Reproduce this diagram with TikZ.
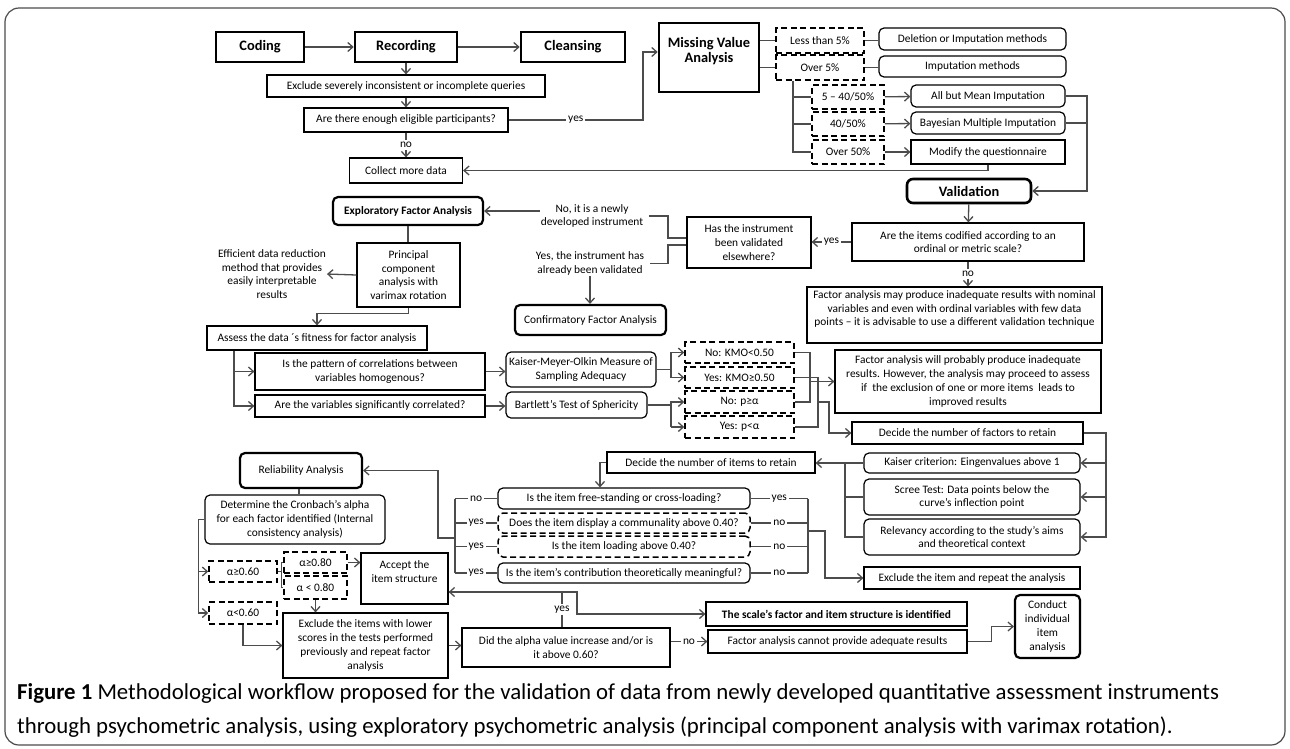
\documentclass[tikz,border=0pt]{standalone}
\usepackage{fontspec}
\setmainfont{Carlito}
\usepackage{tikz}
\usetikzlibrary{arrows.meta,positioning,calc}

\begin{document}
\begin{tikzpicture}[x=1pt, y=-1pt,
    >={Straight Barb[length=5pt,width=9pt]},
    every node/.style={font=\fontsize{11.4}{13.8}\selectfont, inner sep=1pt, align=center},
    wh/.style 2 args={minimum width=#1pt, minimum height=#2pt},
    bold/.style={font=\fontsize{11.4}{13.8}\selectfont\bfseries},
    box/.style={draw, line width=1.2pt},
    rbox/.style={box, rounded corners=5pt},
    mbox/.style={draw, line width=2.2pt, rounded corners=5pt},
    dbox/.style={draw, line width=1.5pt, dash pattern=on 6pt off 3.5pt},
    drbox/.style={dbox, rounded corners=5pt},
    hbox/.style={draw, line width=2.6pt, font=\fontsize{14.4}{15.5}\selectfont\bfseries},
    hrbox/.style={hbox, rounded corners=6pt},
    conn/.style={draw=black!70, line width=1.3pt},
    lbl/.style={fill=white, inner sep=2pt},
]
    \useasboundingbox (0,0) rectangle (1290,748);
    \draw[black!70, line width=1.2pt, rounded corners=14pt] (5,8) rectangle (1285,745);

    \node[hbox, wh={88}{30}] (coding) at (260,47) {Coding};
    \node[hbox, wh={102}{30}] (recording) at (406,47) {Recording};
    \node[hbox, wh={104}{30}] (cleansing) at (573,47) {Cleansing};
    \node[hbox, wh={100}{69}] (mva) at (709,57.5) {Missing Value\\Analysis\\ \mbox{}};

    \node[box, wh={278}{22}] (exclude) at (406,86) {Exclude severely inconsistent or incomplete queries};
    \node[box, wh={204}{24}] (enough) at (406,120) {Are there enough eligible participants?};
    \node[box, wh={113}{25}] (collect) at (406,170.5) {Collect more data};

    \draw[conn, ->] (coding) -- (recording);
    \draw[conn, ->] (recording) -- (cleansing);
    \draw[conn, ->] (recording) -- (exclude);
    \draw[conn, ->] (exclude) -- (enough);
    \draw[conn, ->] (enough) -- node[lbl] {no} (collect);
    \draw[conn, ->] (enough.east) -- node[lbl] {yes} (643,120) |- (mva.west |- 0,52);

    % missing values
    \node[dbox, wh={88}{25}] (less5) at (820,40.5) {Less than 5\%};
    \node[rbox, wh={187}{22}] (delimp) at (972.5,39) {Deletion or Imputation methods};
    \node[dbox, wh={88}{25}] (over5) at (820,67.5) {Over 5\%};
    \node[rbox, wh={187}{21}] (imp) at (972.5,66.5) {Imputation methods};
    \node[dbox, wh={72}{24}] (low) at (848,97) {5 – 40/50\%};
    \node[dbox, wh={72}{24}] (mid) at (848,124) {40/50\%};
    \node[dbox, wh={72}{24}] (high) at (848,152) {Over 50\%};
    \node[rbox, wh={154}{22}] (allbut) at (988,96) {All but Mean Imputation};
    \node[rbox, wh={154}{22}] (bayes) at (988,123) {Bayesian Multiple Imputation};
    \node[box, wh={154}{24}] (modify) at (988,152) {Modify the questionnaire};

    \draw[conn] (mva.east |- less5.west) -- (less5.west);
    \draw[conn] (mva.east |- over5.west) -- (over5.west);
    \draw[conn] (less5.east) -- (less5.east -| delimp.west);
    \draw[conn] (over5.east) -- (over5.east -| imp.west);
    \draw[conn] (over5.south -| 793,0) |- (high.west);
    \draw[conn] (low.west -| 793,0) -- (low.west);
    \draw[conn] (mid.west -| 793,0) -- (mid.west);
    \draw[conn, ->] (low) -- (allbut);
    \draw[conn, ->] (mid) -- (bayes);
    \draw[conn, ->] (high) -- (modify);
    \draw[conn] (bayes.east) -- (bayes.east -| 1087,0);
    \draw[conn, ->] (modify.south) |- (collect.east);

    % validation
    \node[hrbox, wh={124}{24}] (validation) at (969,191) {Validation};
    \node[box, wh={232}{38}] (codified) at (968,242) {Are the items codified according to an\\ordinal or metric scale?};
    \node[box, wh={124}{51}] (validated) at (749,242.5) {Has the instrument\\been validated\\elsewhere?};
    \node[box, wh={295}{56}] (nominal) at (954.5,315) {Factor analysis may produce inadequate results with nominal\\variables and even with ordinal variables with few data\\points – it is advisable to use a different validation technique\\ \mbox{}};
    \node (newdev) at (592,216) {No, it is a newly\\developed instrument};
    \node (already) at (590,263.5) {Yes, the instrument has\\already been validated};
    \node[mbox, bold, wh={150}{28}] (efa) at (408,211) {Exploratory Factor Analysis};
    \node[mbox, wh={151}{30}] (cfa) at (590.5,320) {Confirmatory Factor Analysis};

    \draw[conn, ->] (allbut.east) -| (1087,191) -- (validation.east);
    \draw[conn, ->] (validation) -- (codified);
    \draw[conn, ->] (codified.west) -- node[lbl] {yes} (codified.west -| validated.east);
    \draw[conn, ->] (codified.south) -- node[lbl] {no} (codified.south |- nominal.north);
    \draw[conn] ([xshift=5pt]newdev.east) -| (668,238) -- (validated.west |- 0,238);
    \draw[conn] ([xshift=5pt]already.east) -| (668,245) -- (validated.west |- 0,245);
    \draw[conn, ->] (newdev.west |- efa.east) -- (efa.east);
    \draw[conn, ->] (already.south) -- (already.south |- cfa.north);

    \node[box, wh={103}{64}] (pca) at (408.5,275) {Principal\\component\\analysis with\\varimax rotation};
    \node (efficient) at (272,274) {Efficient data reduction\\method that provides\\easily interpretable\\results};
    \node[box, wh={220}{24}] (assess) at (317,338) {Assess the data ´s fitness for factor analysis};

    \draw[conn] (efa.south) -- (efa.south |- pca.north);
    \draw[conn, ->] (pca.west) -- (efficient.east);
    \draw[conn, ->] (pca.south) -- ++(0,6) -| (assess.north);

    % adequacy tests
    \node[box, wh={230}{37}] (pattern) at (370,371.5) {Is the pattern of correlations between\\variables homogenous?};
    \node[box, wh={230}{22}] (correlated) at (370,406) {Are the variables significantly correlated?};
    \node[rbox, wh={150}{35}, inner sep=0pt] (kmo) at (581,369.5) {Kaiser-Meyer-Olkin Measure of\\Sampling Adequacy};
    \node[rbox, wh={141}{26}] (bartlett) at (576.5,405) {Bartlett’s Test of Sphericity};
    \node[dbox, wh={109}{21}] (kmono) at (739.5,352.5) {No: KMO<0.50};
    \node[dbox, wh={109}{21}] (kmoyes) at (739.5,377.5) {Yes: KMO≥0.50};
    \node[dbox, wh={109}{22}] (pno) at (739.5,402) {No: p≥α};
    \node[dbox, wh={109}{22}] (pyes) at (739.5,427) {Yes: p<α};
    \node[box, wh={266}{63}] (improve) at (968,381.5) {Factor analysis will probably produce inadequate\\results. However, the analysis may proceed to assess\\if~ the exclusion of one or more items~ leads to\\improved results};
    \node[box, wh={231}{22}] (nfactors) at (967.5,433) {Decide the number of factors to retain};

    \draw[conn, ->] (assess.south -| 234,0) |- (correlated.west);
    \draw[conn, ->] (pattern.west -| 234,0) -- (pattern.west);
    \draw[conn, ->] (pattern.east) -- (pattern.east -| kmo.west);
    \draw[conn, ->] (correlated.east) -- (correlated.east -| bartlett.west);
    \draw[conn] (kmo.east) -- (kmo.east -| 671,0);
    \draw[conn, ->] (kmoyes.west -| 671,0) |- (kmono.west);
    \draw[conn, ->] (kmoyes.west -| 671,0) -- (kmoyes.west);
    \draw[conn] (bartlett.east) -- (bartlett.east -| 671,0);
    \draw[conn, ->] (pyes.west -| 671,0) |- (pno.west);
    \draw[conn, ->] (pyes.west -| 671,0) -- (pyes.west);
    \draw[conn] (kmono.east) -| (810,402) -- (pno.east);
    \draw[conn, ->] (improve.west -| 810,0) -- (improve.west);
    \draw[conn] (kmoyes.east) -| (818,427) -- (pyes.east);
    \draw[conn, ->] (818,402) -- (829,402) |- (nfactors.west);

    % factors and items
    \node[rbox, wh={216}{20}] (kaiser) at (972,463) {Kaiser criterion: Eingenvalues above 1};
    \node[rbox, wh={216}{36}] (scree) at (972,497) {Scree Test: Data points below the\\curve’s inflection point};
    \node[rbox, wh={216}{36}] (relevancy) at (972,537) {Relevancy according to the study’s aims\\and theoretical context};
    \node[box, wh={216}{22}] (dropitem) at (972,578) {Exclude the item and repeat the analysis};
    \node[box, wh={208}{21}] (nitems) at (711,462.5) {Decide the number of items to retain};

    \draw[conn, ->] (nfactors.east) -| (1106,537) -- (relevancy.east);
    \draw[conn, ->] (kaiser.east -| 1106,0) -- (kaiser.east);
    \draw[conn, ->] (scree.east -| 1106,0) -- (scree.east);
    \draw[conn, ->] (kaiser.west) -- (kaiser.west -| nitems.east);
    \draw[conn] (kaiser.west -| 845,0) |- (relevancy.west);
    \draw[conn] (scree.west -| 845,0) -- (scree.west);

    \node[rbox, wh={252}{21}] (standing) at (624,498.5) {Is the item free-standing or cross-loading?};
    \node[drbox, wh={252}{20}] (communality) at (624,523) {Does the item display a communality above 0.40?};
    \node[drbox, wh={252}{21}] (loading) at (624,546.5) {Is the item loading above 0.40?};
    \node[rbox, wh={252}{20}] (meaningful) at (624,573) {Is the item’s contribution theoretically meaningful?};
    \node[mbox, wh={122}{35}] (reliability) at (301,470.5) {Reliability Analysis};

    \draw[conn, ->] (nitems.west) -| (standing.north -| 600,0);
    \draw[conn] (standing.west) -- node[lbl] {no} (standing.west -| 455,0);
    \draw[conn] (communality.west) -- node[lbl] {yes} (communality.west -| 455,0);
    \draw[conn] (loading.west) -- node[lbl] {yes} (loading.west -| 455,0);
    \draw[conn] (meaningful.west) -- node[lbl] {yes} (meaningful.west -| 455,0);
    \draw[conn] (standing.west -| 455,0) -- (meaningful.west -| 455,0);
    \draw[conn, ->] (455,538) -| (438,470.5) -- (reliability.east);
    \draw[conn] (standing.east) -- node[lbl] {yes} (standing.east -| 808,0);
    \draw[conn] (communality.east) -- node[lbl] {no} (communality.east -| 808,0);
    \draw[conn] (loading.east) -- node[lbl] {no} (loading.east -| 808,0);
    \draw[conn] (meaningful.east) -- node[lbl] {no} (meaningful.east -| 808,0);
    \draw[conn] (standing.east -| 808,0) -- (meaningful.east -| 808,0);
    \draw[conn, ->] (808,531) -| (825,578) -- (dropitem.west);

    % reliability
    \node[rbox, wh={180}{49}] (cronbach) at (295,519.5) {Determine the Cronbach’s alpha\\for each factor identified (Internal\\consistency analysis)};
    \node[dbox, wh={68}{21}] (alphagood) at (243,571.5) {α≥0.60};
    \node[dbox, wh={68}{22}] (alphapoor) at (243,613) {α<0.60};
    \node[dbox, wh={63}{21}] (alphahigh) at (315.5,562.5) {α≥0.80};
    \node[dbox, wh={63}{23}] (alphalow) at (315.5,587.5) {α < 0.80};
    \node[box, wh={87}{51}] (accept) at (404.5,578.5) {Accept the\\item structure\\ \mbox{}};
    \node[box, wh={165}{65}] (retry) at (365.5,645.5) {Exclude the items with lower\\scores in the tests performed\\previously and repeat factor\\analysis};
    \node[box, wh={208}{39}] (increase) at (566,647.5) {Did the alpha value increase and/or is\\it above 0.60?};
    \node[box, bold, wh={261}{24}] (identified) at (836.5,614) {The scale’s factor and item structure is identified};
    \node[box, wh={259}{23}] (cannot) at (837.5,641.5) {Factor analysis cannot provide adequate results};
    \node[mbox, wh={65}{63}] (conduct) at (1047.5,626.5) {Conduct\\individual\\item\\analysis};

    \draw[conn] (reliability.south -| 299,0) -- (cronbach.north -| 299,0);
    \draw[conn, ->] (cronbach.west) -- ++(-6,0) |- (alphapoor.west);
    \draw[conn, ->] (alphagood.west -| 199,0) -- (alphagood.west);
    \draw[conn] (alphagood.east) -- ++(3.5,0) coordinate (brace);
    \draw[conn] (alphahigh.west) -| (brace) |- (alphalow.west);
    \draw[conn, ->] (alphahigh.east) -- (alphahigh.east -| accept.west);
    \draw[conn, ->] (alphalow.south) -- (alphalow.south |- retry.north);
    \draw[conn, ->] (alphapoor.south) |- (retry.west);
    \draw[conn, ->] (retry.east) -- (retry.east -| increase.west);
    \draw[conn, ->] (increase.north -| 562,0) -- node[lbl] {yes} (562,592) -- (accept.east |- 0,592);
    \draw[conn, ->] (accept.east |- 0,592) -| (577,614) -- (identified.west);
    \draw[conn, ->] (increase.east |- cannot.west) -- node[lbl] {no} (cannot.west);
    \draw[conn, ->] (cannot.east) -- ++(24,0) |- (conduct.west);

    \node[anchor=west, align=left, font=\fontsize{22.8}{34}\selectfont] (caption) at (16,710) {\textbf{Figure 1} Methodological workflow proposed for the validation of data from newly developed quantitative assessment instruments\\through psychometric analysis, using exploratory psychometric analysis (principal component analysis with varimax rotation).};

\end{tikzpicture}
\end{document}
